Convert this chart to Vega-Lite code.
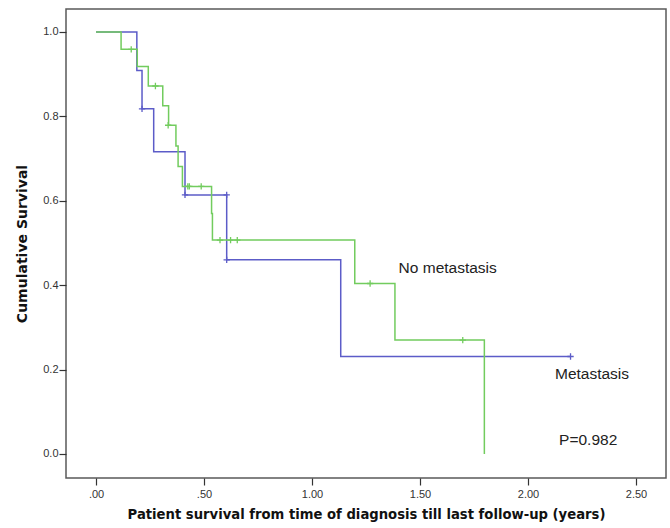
{
  "$schema": "https://vega.github.io/schema/vega-lite/v6.json",
  "autosize": "none",
  "width": 600,
  "height": 469,
  "padding": {"left": 66, "top": 9, "right": 4, "bottom": 50},
  "background": "white",
  "config": {
    "view": {"stroke": "#5a5a5a", "strokeWidth": 1.5},
    "axis": {"grid": false, "domain": false, "tickColor": "#333", "tickSize": 7, "tickWidth": 1.2,
      "labelFont": "Liberation Sans", "labelFontSize": 11, "labelColor": "#333",
      "titleFont": "DejaVu Sans", "titleFontWeight": "bold", "titleColor": "#111"}
  },
  "datasets": {
    "curves": [
      {"group": "Metastasis", "t": 0, "s": 1},
      {"group": "Metastasis", "t": 0.189, "s": 0.909},
      {"group": "Metastasis", "t": 0.213, "s": 0.818},
      {"group": "Metastasis", "t": 0.267, "s": 0.716},
      {"group": "Metastasis", "t": 0.412, "s": 0.614},
      {"group": "Metastasis", "t": 0.605, "s": 0.46},
      {"group": "Metastasis", "t": 1.133, "s": 0.231},
      {"group": "Metastasis", "t": 2.197, "s": 0.231},
      {"group": "No metastasis", "t": 0, "s": 1},
      {"group": "No metastasis", "t": 0.116, "s": 0.959},
      {"group": "No metastasis", "t": 0.191, "s": 0.918},
      {"group": "No metastasis", "t": 0.242, "s": 0.872},
      {"group": "No metastasis", "t": 0.309, "s": 0.825},
      {"group": "No metastasis", "t": 0.336, "s": 0.779},
      {"group": "No metastasis", "t": 0.37, "s": 0.73},
      {"group": "No metastasis", "t": 0.38, "s": 0.681},
      {"group": "No metastasis", "t": 0.4, "s": 0.634},
      {"group": "No metastasis", "t": 0.535, "s": 0.57},
      {"group": "No metastasis", "t": 0.539, "s": 0.507},
      {"group": "No metastasis", "t": 1.198, "s": 0.404},
      {"group": "No metastasis", "t": 1.384, "s": 0.27},
      {"group": "No metastasis", "t": 1.798, "s": 0.0}
    ],
    "censored": [
      {"group": "Metastasis", "t": 0.213, "s": 0.818},
      {"group": "Metastasis", "t": 0.412, "s": 0.614},
      {"group": "Metastasis", "t": 0.605, "s": 0.614},
      {"group": "Metastasis", "t": 0.605, "s": 0.46},
      {"group": "Metastasis", "t": 2.197, "s": 0.231},
      {"group": "No metastasis", "t": 0.163, "s": 0.959},
      {"group": "No metastasis", "t": 0.275, "s": 0.872},
      {"group": "No metastasis", "t": 0.334, "s": 0.779},
      {"group": "No metastasis", "t": 0.425, "s": 0.634},
      {"group": "No metastasis", "t": 0.432, "s": 0.634},
      {"group": "No metastasis", "t": 0.487, "s": 0.634},
      {"group": "No metastasis", "t": 0.574, "s": 0.507},
      {"group": "No metastasis", "t": 0.623, "s": 0.507},
      {"group": "No metastasis", "t": 0.654, "s": 0.507},
      {"group": "No metastasis", "t": 1.269, "s": 0.404},
      {"group": "No metastasis", "t": 1.698, "s": 0.27}
    ],
    "labels": [
      {"label": "No metastasis", "t": 1.401, "s": 0.441},
      {"label": "Metastasis", "t": 2.125, "s": 0.19},
      {"label": "P=0.982", "t": 2.144, "s": 0.033}
    ]
  },
  "encoding": {
    "x": {"field": "t", "type": "quantitative",
      "scale": {"domain": [-0.139, 2.639], "nice": false, "zero": false},
      "axis": {"values": [0, 0.5, 1, 1.5, 2, 2.5], "labelPadding": 3,
        "labelExpr": "datum.value < 1 ? slice(format(datum.value, '.2f'), 1) : format(datum.value, '.2f')",
        "title": "Patient survival from time of diagnosis till last follow-up (years)", "titleFontSize": 13.2, "titlePadding": 9}},
    "y": {"field": "s", "type": "quantitative",
      "scale": {"domain": [-0.0569, 1.0545], "nice": false, "zero": false},
      "axis": {"values": [0, 0.2, 0.4, 0.6, 0.8, 1.0], "format": ".1f", "labelPadding": 1,
        "title": "Cumulative Survival", "titleFontSize": 14, "titlePadding": 13}}
  },
  "layer": [
    {
      "data": {"name": "curves"},
      "mark": {"type": "line", "interpolate": "step-after", "strokeWidth": 1.5},
      "encoding": {
        "color": {"field": "group", "type": "nominal",
          "scale": {"domain": ["Metastasis", "No metastasis"], "range": ["#5c5cc8", "#72cc5e"]}, "legend": null},
        "order": {"field": "t", "type": "quantitative"}
      }
    },
    {
      "data": {"name": "censored"},
      "mark": {"type": "point", "shape": "M0,-1L0,1M-1,0L1,0", "filled": false, "size": 40, "strokeWidth": 1.3, "opacity": 1},
      "encoding": {
        "color": {"field": "group", "type": "nominal",
          "scale": {"domain": ["Metastasis", "No metastasis"], "range": ["#5c5cc8", "#72cc5e"]}, "legend": null}
      }
    },
    {
      "data": {"name": "labels"},
      "mark": {"type": "text", "align": "left", "baseline": "middle", "font": "Liberation Sans", "fontSize": 15.5, "color": "#222"},
      "encoding": {"text": {"field": "label", "type": "nominal"}}
    }
  ]
}
